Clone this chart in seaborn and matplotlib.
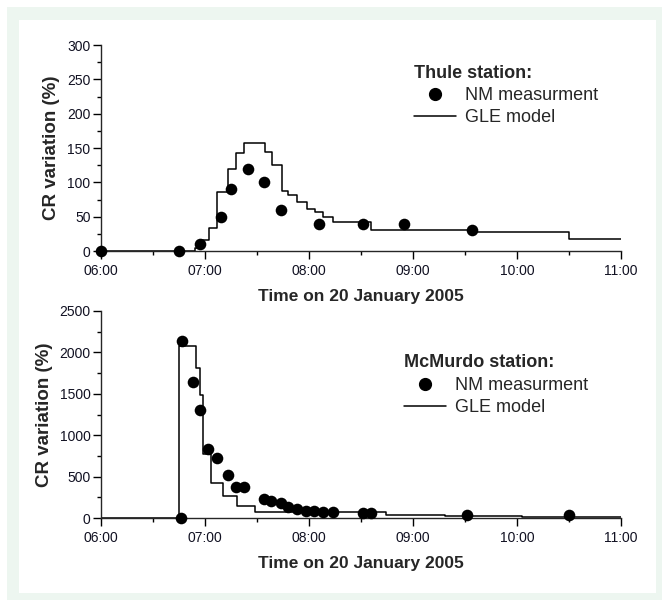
import numpy as np
import pandas as pd
import matplotlib
matplotlib.use("Agg")
import matplotlib.pyplot as plt
import seaborn as sns
from matplotlib.lines import Line2D
from matplotlib.patches import Rectangle
from matplotlib.ticker import MultipleLocator, FuncFormatter

# Times are minutes after 06:00 UT on 20 January 2005
thule_nm_t = [0, 45, 57, 69, 75, 85, 94, 104, 126, 151, 175, 214]
thule_nm_v = [0, 0, 10, 50, 90, 120, 100, 60, 40, 40, 40, 30]
thule_gle_t = [0, 54, 57.5, 62.5, 67, 73, 78, 82.5, 94.5, 98.5, 104.5, 108, 113,
               119, 123.5, 128, 134, 156, 214, 270, 300]
thule_gle_v = [0, 5, 16, 34, 86, 120, 142, 157, 144, 125, 88, 82, 72,
               61, 57, 50, 42, 31, 27, 18, 18]

mcm_nm_t = [46, 47, 53, 57, 62, 67, 73, 78, 82.5, 94, 98, 104, 108, 113,
            118.5, 123, 128, 134, 151, 156, 211, 270]
mcm_nm_v = [0, 2140, 1640, 1300, 830, 720, 515, 375, 375, 230, 205, 180, 130, 105,
            90, 85, 75, 68, 55, 55, 40, 35]
mcm_gle_t = [0, 45.2, 54.8, 57.2, 58.7, 63.3, 70.5, 78.6, 88.8, 164.5, 198.6, 243, 300]
mcm_gle_v = [0, 2080, 1810, 1480, 770, 420, 265, 145, 70, 40, 25, 8, 8]

x_ticks = [0, 60, 120, 180, 240, 300]
x_label = "Time on 20 January 2005"
y_label = "CR variation (%)"
legend_labels = ["NM measurment", "GLE model"]

sns.set_style("ticks")
plt.rcParams['font.family'] = ['Liberation Sans', 'DejaVu Sans']
plt.rcParams['axes.linewidth'] = 1.0

W, H = 662, 601
fig = plt.figure(figsize=(W / 100, H / 100), dpi=100)
fig.patch.set_facecolor("white")

# light green frame
fig.patches.append(Rectangle((6.5 / W, 1 - 600 / H), (662 - 6.5) / W, (600 - 7) / H,
                             transform=fig.transFigure, facecolor="#edf6f0",
                             edgecolor="none", zorder=-20))
fig.patches.append(Rectangle((19 / W, 1 - 592.5 / H), (655.5 - 19) / W, (592.5 - 20) / H,
                             transform=fig.transFigure, facecolor="white",
                             edgecolor="none", zorder=-19))

def axes_rect(left, top, right, bottom):
    return [left / W, 1 - bottom / H, (right - left) / W, (bottom - top) / H]

ax1 = fig.add_axes(axes_rect(101, 45, 621, 251))
ax2 = fig.add_axes(axes_rect(101, 311, 621, 518))
for ax in (ax1, ax2):
    ax.set_facecolor("none")

fmt = FuncFormatter(lambda x, p: f"{6 + int(x // 60):02d}:{int(x % 60):02d}")

def draw(ax, nm_t, nm_v, gle_t, gle_v, ymax, ymaj, title, leg_xy):
    gle = pd.DataFrame({"t": gle_t, "v": gle_v})
    nm = pd.DataFrame({"t": nm_t, "v": nm_v})
    sns.lineplot(data=gle, x="t", y="v", ax=ax, color="black", linewidth=1.1,
                 drawstyle="steps-post", estimator=None, sort=False, legend=False)
    sns.scatterplot(data=nm, x="t", y="v", ax=ax, color="black", s=70,
                    edgecolor="black", linewidth=0, legend=False, clip_on=False, zorder=5)
    ax.set_xlim(0, 300)
    ax.set_ylim(0, ymax)
    ax.set_xticks(x_ticks)
    ax.xaxis.set_major_formatter(fmt)
    ax.xaxis.set_minor_locator(MultipleLocator(30))
    ax.yaxis.set_major_locator(MultipleLocator(ymaj))
    ax.yaxis.set_minor_locator(MultipleLocator(ymaj / 2))
    ax.tick_params(which="major", direction="out", length=5.5, width=1.0,
                   labelsize=10, color="black", labelcolor="#111122", pad=2)
    ax.tick_params(axis="x", which="major", pad=4)
    ax.tick_params(which="minor", direction="out", length=3, width=1.0, color="black")
    sns.despine(ax=ax)
    ax.set_xlabel(x_label, fontsize=12.5, fontweight="bold", labelpad=8)
    ax.set_ylabel(y_label, fontsize=13.5, fontweight="bold", labelpad=5)
    handles = [Line2D([], [], marker="o", ls="none", color="black", markersize=8.5),
               Line2D([], [], color="black", lw=1.1)]
    ax.legend(handles, legend_labels, title=title, loc="upper left",
              bbox_to_anchor=leg_xy, frameon=False, borderpad=0,
              handlelength=2.3, handletextpad=0.5, labelspacing=0.3,
              borderaxespad=0, alignment="left", fontsize=13,
              title_fontproperties={"weight": "bold", "size": 13})

draw(ax1, thule_nm_t, thule_nm_v, thule_gle_t, thule_gle_v, 300, 50,
     "Thule station:", (0.602, 0.905))
draw(ax2, mcm_nm_t, mcm_nm_v, mcm_gle_t, mcm_gle_v, 2500, 500,
     "McMurdo station:", (0.583, 0.79))

fig.savefig("out.png", dpi=100)
